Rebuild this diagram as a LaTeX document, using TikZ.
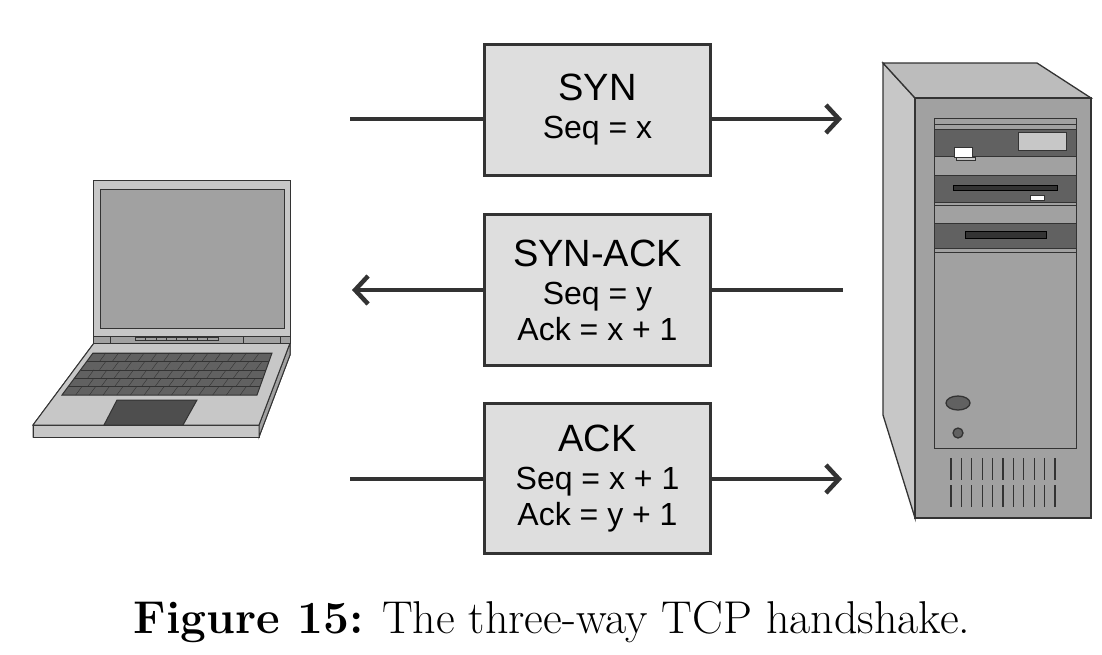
\documentclass[tikz,border=0pt]{standalone}
\usepackage{fontspec}
\newfontfamily\boxfont{Liberation Sans}
\usetikzlibrary{arrows.meta}
\definecolor{lg}{gray}{0.87}
\definecolor{mg}{gray}{0.63}
\definecolor{dg}{gray}{0.38}
\definecolor{sg}{gray}{0.78}
\definecolor{ln}{gray}{0.2}
\begin{document}
\begin{tikzpicture}[x=1pt,y=-1pt,
  msg/.style={draw=ln,line width=3.5pt,fill=lg,minimum width=226pt,align=center,inner sep=0pt,font=\boxfont\fontsize{32}{36}\selectfont},
  conn/.style={draw=ln,line width=4pt},
  arr/.style={conn,-{Straight Barb[length=13pt,width=28pt,line width=4.5pt]}},
  part/.style={draw=ln,line width=1pt}]
\useasboundingbox (0,0) rectangle (1102,654);
% boxes
\node[msg,minimum height=131pt] (b1) at (597.5,110) {{\fontsize{38}{40}\selectfont SYN}\\[2pt]Seq = x};
\node[msg,minimum height=151pt] (b2) at (597.5,290) {{\fontsize{38}{40}\selectfont SYN-ACK}\\[2pt]Seq = y\\Ack = x + 1};
\node[msg,minimum height=150pt] (b3) at (597.5,478.5) {{\fontsize{38}{40}\selectfont ACK}\\[2pt]Seq = x + 1\\Ack = y + 1};
\coordinate (l1) at (350,119); \coordinate (r1) at (842,119);
\coordinate (l2) at (352,290); \coordinate (r2) at (843,290);
\coordinate (l3) at (350,479); \coordinate (r3) at (842,479);
\draw[conn] (l1) -- (l1 -| b1.west);
\draw[arr] (r1 -| b1.east) -- (r1);
\draw[arr] (l2 -| b2.west) -- (l2);
\draw[conn] (r2 -| b2.east) -- (r2);
\draw[conn] (l3) -- (l3 -| b3.west);
\draw[arr] (r3 -| b3.east) -- (r3);
% laptop
\draw[part,fill=sg] (94,343) -- (290,343) -- (290,355) -- (259,437) -- (33,437) -- (33,425) -- cycle;
\draw[part,fill=sg] (33,425) -- (259,425) -- (259,437) -- (33,437) -- cycle;
\draw[part,fill=mg] (259,425) -- (290,343) -- (290,355) -- (259,437) -- cycle;
\draw[part,fill=sg] (94,343) -- (290,343) -- (259,425) -- (33,425) -- cycle;
\draw[part,fill=dg] (93,353) -- (272,353) -- (257,395) -- (62,395) -- cycle;
\foreach \r in {0,...,4}{
  \pgfmathsetmacro\ya{353+8.4*\r}
  \draw[ln,line width=0.4pt] ({93-31*\r*8.4/42},\ya) -- ({272-15*\r*8.4/42},\ya);
  \foreach \k in {1,...,13}{
    \pgfmathsetmacro\xa{93-31*\r*8.4/42+\k*(179+16*\r*8.4/42)/14+(mod(\r,2))*6}
    \draw[ln,line width=0.4pt] (\xa,\ya) -- ({\xa-6.2},{\ya+8.4});
  }
}
\draw[part,fill=dg!80!black] (117,400) -- (197,400) -- (183,425) -- (104,425) -- cycle;
\draw[part,fill=sg] (93,180) rectangle (290,343);
\draw[part,fill=mg] (100,189) rectangle (284,328);
\draw[part,fill=mg] (93,336) rectangle (290,343);
\draw[ln,line width=0.6pt] (110,336) -- (110,343) (243,336) -- (243,343) (280,336) -- (280,343);
\draw[ln,line width=0.5pt,fill=mg] (135,337) rectangle (218,340);
\foreach \i in {1,...,7}{\draw[ln,line width=0.4pt] ({135+\i*83/8},337) -- ({135+\i*83/8},340);}
% server
\draw[part,line width=1.3pt,fill=sg] (883,63) -- (915,98) -- (915,518) -- (883,415) -- cycle;
\draw[part,line width=1.3pt,fill=sg!85!gray] (883,63) -- (1037,63) -- (1091,98) -- (915,98) -- cycle;
\draw[part,line width=1.3pt,fill=mg] (915,98) rectangle (1091,518);
\draw[part,fill=mg] (934,118) rectangle (1076,448);
\draw[part,fill=mg] (934,118) rectangle (1076,124);
\draw[part,fill=dg] (934,129) rectangle (1076,156);
\draw[part,fill=sg] (1018,132) rectangle (1066,150);
\draw[part,fill=white] (954,147) rectangle (972,157);
\draw[part,fill=sg] (956,157) rectangle (975,160);
\draw[part,fill=dg] (934,175) rectangle (1076,202);
\draw[line width=0pt,fill=ln] (953,185) rectangle (1057,190);
\draw[part,fill=white] (1030,195) rectangle (1044,200);
\draw[part] (934,205) -- (1076,205);
\draw[part,fill=dg] (934,223) rectangle (1076,248);
\draw[part] (934,252) -- (1076,252);
\draw[line width=0pt,fill=ln] (965,231) rectangle (1046,238);
\draw[part,line width=1.3pt,fill=dg] (958,403) ellipse (12 and 7);
\draw[part,line width=1.3pt,fill=dg] (958,433) circle (5);
\foreach \i in {0,...,10}{
  \draw[ln,line width=1.3pt] ({951+\i*10.4},458) -- ({951+\i*10.4},480);
  \draw[ln,line width=1.3pt] ({951+\i*10.4},485) -- ({951+\i*10.4},507);
}
% caption
\node[font=\fontsize{46}{50}\selectfont] (cap) at (552,622) {\textbf{Figure 15:} The three-way TCP handshake.};
\end{tikzpicture}
\end{document}
